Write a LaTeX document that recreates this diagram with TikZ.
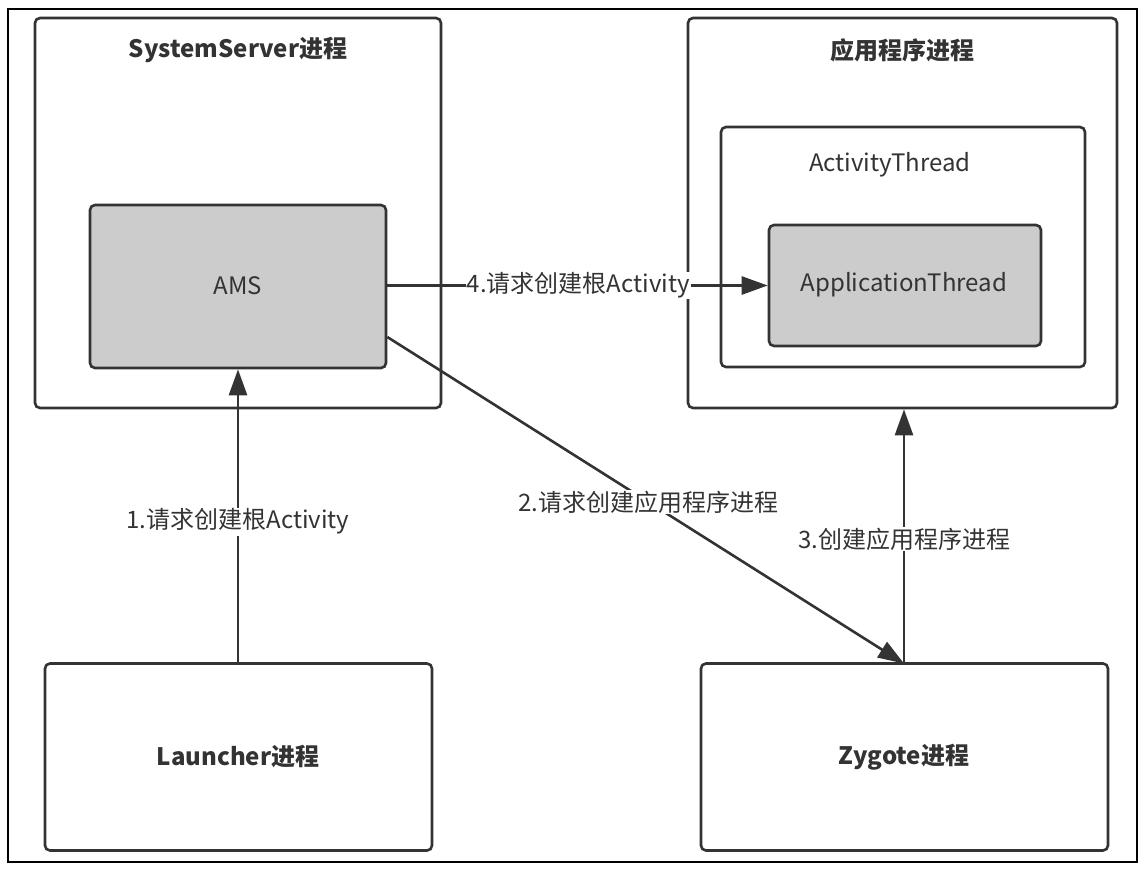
\documentclass[tikz,border=0pt]{standalone}
\usepackage{fontspec}
\setmainfont{Noto Sans CJK SC}
\usetikzlibrary{arrows.meta}
\definecolor{ink}{HTML}{333333}
\definecolor{boxgray}{HTML}{CCCCCC}
\tikzset{
  box/.style={draw=ink, line width=2.6pt, rounded corners=5pt, inner sep=0pt, fill=white},
  graybox/.style={box, fill=boxgray},
  txt/.style={text=ink, font=\fontsize{24}{28}\selectfont, inner sep=0pt},
  title/.style={text=ink, font=\fontsize{24}{28}\selectfont\bfseries, inner sep=0pt},
  conn/.style={draw=ink, line width=2.6pt, -{Triangle[length=26pt,width=18pt]}},
  lbl/.style={txt, fill=white, inner sep=1pt}
}
\begin{document}
\begin{tikzpicture}[x=1pt,y=-1pt]
\useasboundingbox (0,0) rectangle (1146,871);
\draw[black, line width=1.8pt] (8,9) rectangle (1137,862);
% boxes
\node[box, minimum width=406pt, minimum height=390pt] (ss) at (238,213) {};
\node[title] (sst) at (238,50) {SystemServer进程};
\node[graybox, minimum width=296pt, minimum height=163pt] (ams) at (238,286.5) {};
\node[txt] (amst) at (238,286) {AMS};
\node[box, minimum width=429pt, minimum height=390pt] (app) at (902.5,213) {};
\node[title] (appt) at (902,50) {应用程序进程};
\node[box, minimum width=364pt, minimum height=240pt] (at) at (903,247) {};
\node[txt] (att) at (890,165) {ActivityThread};
\node[graybox, minimum width=272pt, minimum height=121pt] (apt) at (905,285.5) {};
\node[txt] (aptt) at (904,285) {ApplicationThread};
\node[box, minimum width=387pt, minimum height=187pt] (la) at (238.5,757) {};
\node[title] (lat) at (238,757) {Launcher进程};
\node[box, minimum width=407pt, minimum height=187pt] (zy) at (904.5,757) {};
\node[title] (zyt) at (904,757) {Zygote进程};
% connectors
\coordinate (zytop) at (904,663.5);
\draw[conn] (la.north -| ams.south) -- node[lbl, pos=0.48] {1.请求创建根Activity} (ams.south);
\draw[conn] (ams.east |- 0,337) -- node[lbl, pos=0.505] {2.请求创建应用程序进程} (zytop);
\draw[conn] (zytop) -- node[lbl, pos=0.49] {3.创建应用程序进程} (zytop |- app.south);
\draw[conn] (ams.east |- apt.west) -- node[lbl, pos=0.502] {4.请求创建根Activity} (apt.west);
\end{tikzpicture}
\end{document}
